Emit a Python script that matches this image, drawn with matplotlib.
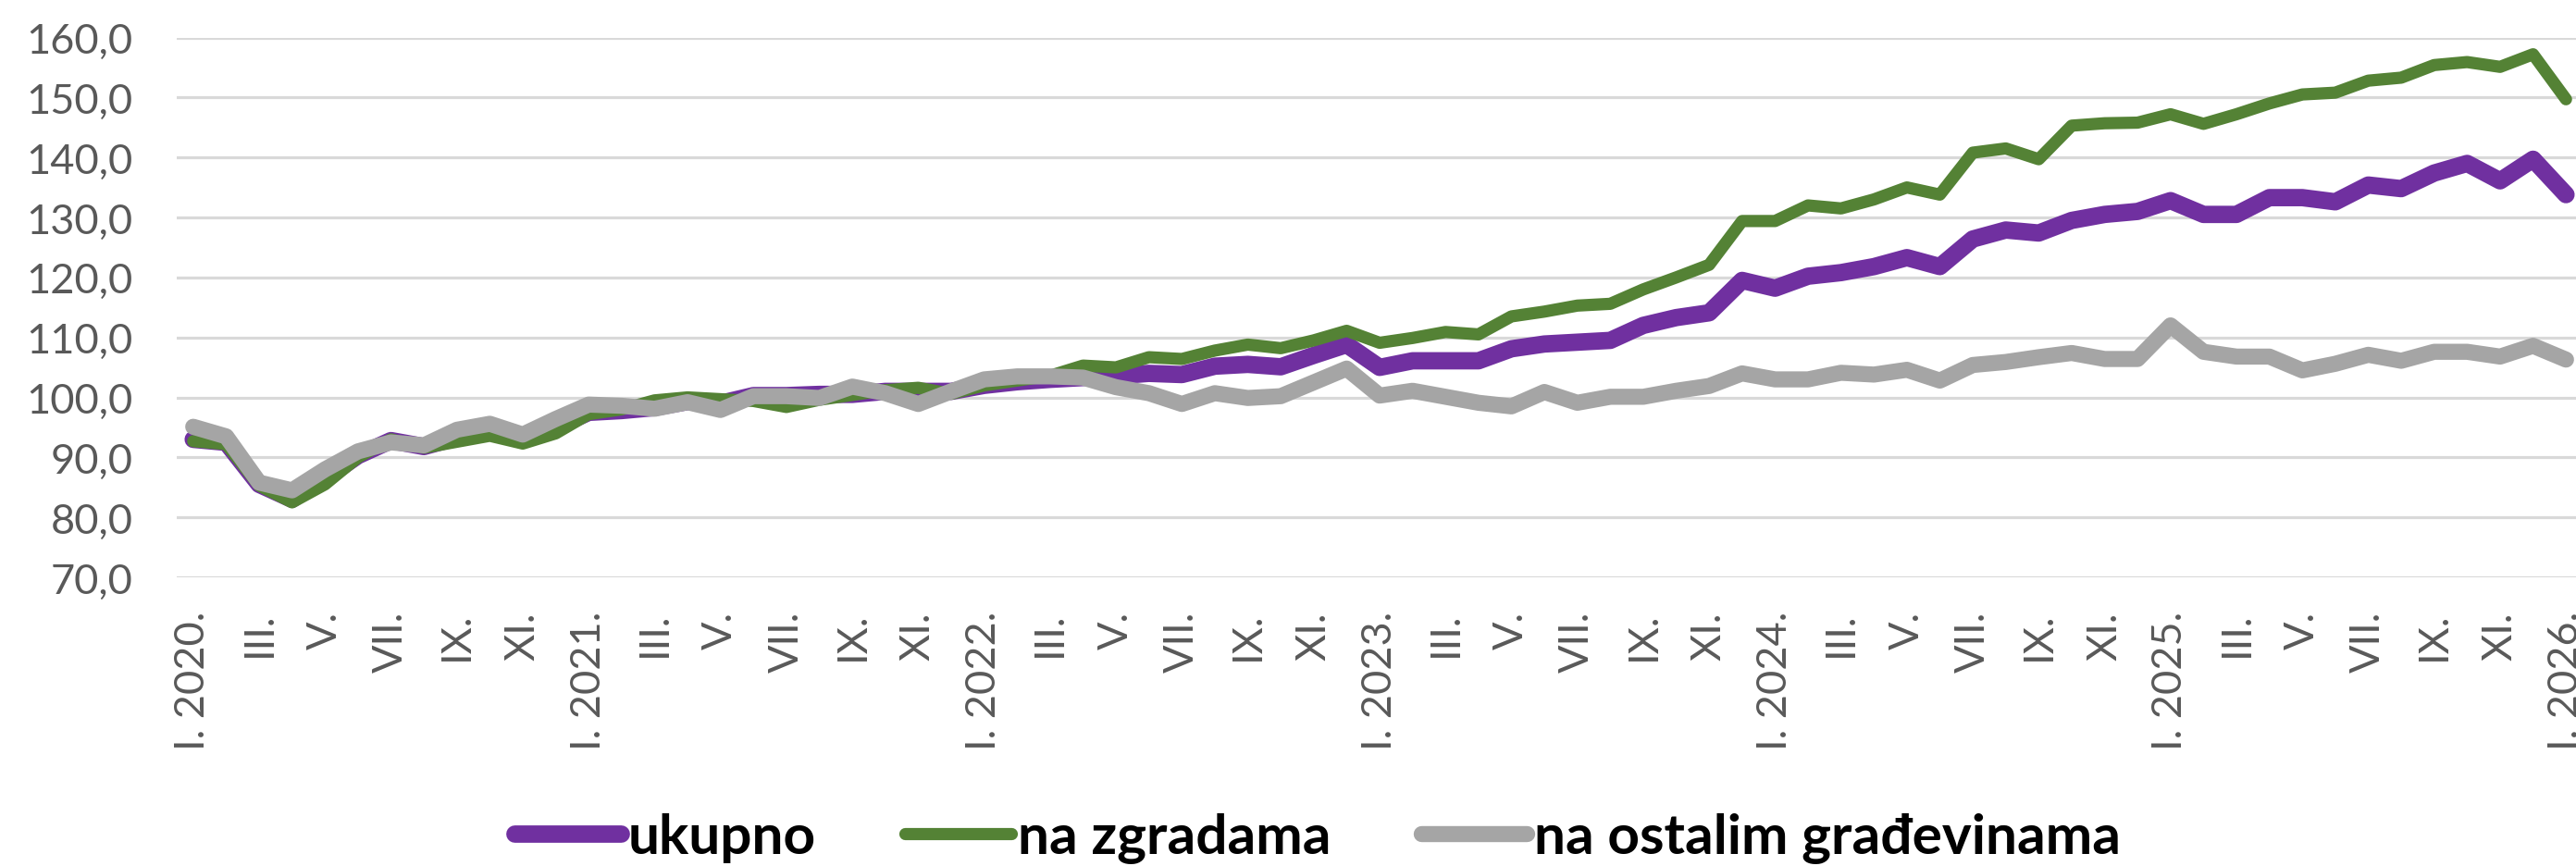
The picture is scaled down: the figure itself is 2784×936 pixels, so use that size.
import numpy as np
import matplotlib
matplotlib.use('Agg')
import matplotlib.pyplot as plt

plt.rcParams['font.family'] = ['Lato', 'DejaVu Sans']

# monthly index, I.2020 .. I.2026
ukupno = [93.0, 92.5, 85.5, 83.0, 86.5, 90.3, 92.8, 91.8, 93.3, 94.3, 93.0, 95.0,
          97.5, 97.8, 98.3, 99.3, 99.0, 100.3, 100.3, 100.5, 100.5, 101.0, 101.0, 101.0,
          102.0, 102.6, 103.0, 103.3, 103.6, 104.0, 103.8, 105.2, 105.5, 105.1, 107.0, 108.8,
          105.0, 106.1, 106.1, 106.1, 108.1, 108.9, 109.2, 109.5, 112.0, 113.3, 114.1, 119.5,
          118.2, 120.2, 120.8, 121.8, 123.3, 121.8, 126.4, 127.9, 127.4, 129.5, 130.5, 131.0,
          132.8, 130.5, 130.5, 133.3, 133.3, 132.6, 135.4, 134.8, 137.4, 139.0, 136.1, 139.7,
          133.8]
zgrade = [92.7, 92.2, 85.3, 82.5, 85.5, 90.0, 93.0, 91.6, 92.6, 93.6, 92.3, 94.0,
          97.2, 98.0, 99.5, 100.0, 99.7, 99.4, 98.4, 99.6, 100.4, 101.2, 101.6, 100.6,
          102.0, 102.8, 103.6, 105.3, 105.0, 106.7, 106.4, 107.8, 108.8, 108.2, 109.5, 111.1,
          109.1, 109.9, 110.9, 110.5, 113.5, 114.3, 115.3, 115.6, 118.0, 120.0, 122.1, 129.4,
          129.4, 132.0, 131.5, 133.0, 135.0, 133.8, 140.8, 141.5, 139.7, 145.3, 145.7, 145.8,
          147.2, 145.6, 147.2, 149.0, 150.5, 150.8, 152.8, 153.3, 155.4, 155.9, 155.1, 157.2,
          149.7]
ostale = [95.1, 93.5, 85.8, 84.5, 88.0, 91.0, 92.5, 92.0, 94.6, 95.6, 93.8, 96.4,
          98.8, 98.6, 98.1, 99.2, 97.9, 100.2, 100.2, 99.9, 101.8, 100.7, 98.9, 101.0,
          103.0, 103.5, 103.5, 103.3, 101.7, 100.7, 98.9, 100.7, 99.9, 100.2, 102.5, 104.8,
          100.3, 101.1, 100.1, 99.1, 98.5, 100.9, 99.1, 100.1, 100.1, 101.1, 101.9, 104.0,
          103.0, 103.0, 104.1, 103.8, 104.6, 102.8, 105.4, 105.9, 106.7, 107.4, 106.4, 106.4,
          112.0, 107.6, 106.8, 106.8, 104.5, 105.6, 107.1, 106.1, 107.6, 107.6, 106.8, 108.6,
          106.3]
months = ['I.', 'II.', 'III.', 'IV.', 'V.', 'VI.', 'VII.', 'VIII.', 'IX.', 'X.', 'XI.', 'XII.']
years = [2020, 2021, 2022, 2023, 2024, 2025, 2026]
yticks = [70, 80, 90, 100, 110, 120, 130, 140, 150, 160]

PURPLE = '#7030A0'; GREEN = '#548235'; GRAY = '#A5A5A5'; GRID = '#D9D9D9'; TXT = '#595959'

labels = []
for k in range(len(ukupno)):
    y, m = years[0] + k // 12, k % 12
    labels.append(f'I. {y}.' if m == 0 else months[m])
x = np.arange(len(ukupno))

fig = plt.figure(figsize=(27.84, 9.37), dpi=100)
ax = fig.add_axes([191/2784, 1-625/937, 2600/2784, (625-41.5)/937])

kw = dict(solid_joinstyle='round', solid_capstyle='round')
ax.plot(x, ukupno, color=PURPLE, lw=13.5, label='ukupno', zorder=3, **kw)
ax.plot(x, zgrade, color=GREEN, lw=9.5, label='na zgradama', zorder=4, **kw)
ax.plot(x, ostale, color=GRAY, lw=12.5, label='na ostalim građevinama', zorder=5, **kw)

ax.set_xlim(-0.5, len(ukupno) - 0.5)
ax.set_ylim(70, 160)
ax.set_yticks(yticks)
ax.set_yticklabels([f'{v:.1f}'.replace('.', ',') for v in yticks])
ax.set_xticks(x[::2])
ax.set_xticklabels(labels[::2], rotation=90)
ax.yaxis.grid(True, color=GRID, lw=2.3)
ax.set_axisbelow(True)
for s in ax.spines.values():
    s.set_visible(False)
ax.tick_params(axis='y', length=0, pad=34, labelsize=32.5, labelcolor=TXT)
ax.tick_params(axis='x', length=0, pad=26, labelsize=32.5, labelcolor=TXT)

leg = fig.legend(loc='center', bbox_to_anchor=(1424/2784, 1-907/937), ncol=3, frameon=False,
                 prop=dict(size=43.5, weight='bold'), handlelength=1.9, handletextpad=0.12,
                 columnspacing=1.6)
for t in leg.get_texts():
    t.set_color('black')

fig.savefig('out.png', dpi=100)
